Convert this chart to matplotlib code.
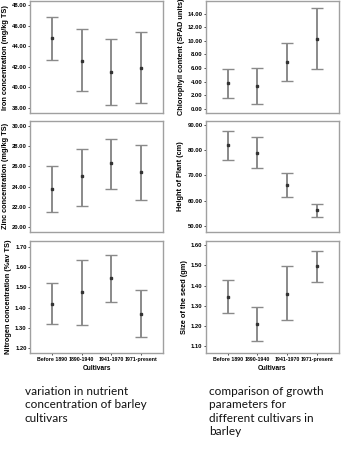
import matplotlib
matplotlib.use('Agg')
import matplotlib.pyplot as plt
from matplotlib import font_manager
from matplotlib.ticker import FormatStrFormatter

cultivars = ['Before 1890', '1890-1940', '1941-1970', '1971-present']

iron_mean = [44.8, 42.6, 41.5, 41.9]
iron_low = [42.7, 39.6, 38.3, 38.5]
iron_high = [46.9, 45.7, 44.7, 45.4]

zinc_mean = [23.8, 25.0, 26.3, 25.4]
zinc_low = [21.5, 22.1, 23.8, 22.7]
zinc_high = [26.0, 27.7, 28.7, 28.1]

nitro_mean = [1.42, 1.475, 1.545, 1.37]
nitro_low = [1.32, 1.315, 1.43, 1.255]
nitro_high = [1.52, 1.635, 1.66, 1.485]

chloro_mean = [3.8, 3.4, 6.9, 10.3]
chloro_low = [1.6, 0.7, 4.1, 5.9]
chloro_high = [5.9, 6.0, 9.7, 14.8]

height_mean = [82.0, 79.0, 66.3, 56.2]
height_low = [76.2, 73.0, 61.5, 53.5]
height_high = [87.5, 85.0, 70.8, 58.8]

seed_mean = [1.345, 1.21, 1.36, 1.495]
seed_low = [1.265, 1.125, 1.23, 1.415]
seed_high = [1.425, 1.295, 1.495, 1.57]

# narrow font for the small chart texts if it is there
names = {f.name for f in font_manager.fontManager.ttflist}
narrow = 'Liberation Sans Narrow' if 'Liberation Sans Narrow' in names else 'Liberation Sans'

panels = [
    # (left, bottom, mean, low, high, ylabel, yticks, ylim, xlabels)
    (0.087, 0.749, iron_mean, iron_low, iron_high, 'Iron concentration (mg/kg TS)',
     [38, 40, 42, 44, 46, 48], (37.5, 48.4), False),
    (0.087, 0.484, zinc_mean, zinc_low, zinc_high, 'Zinc concentration (mg/kg TS)',
     [20, 22, 24, 26, 28, 30], (19.5, 30.5), False),
    (0.087, 0.216, nitro_mean, nitro_low, nitro_high, 'Nitrogen concentration (%av TS)',
     [1.2, 1.3, 1.4, 1.5, 1.6, 1.7], (1.175, 1.73), True),
    (0.595, 0.749, chloro_mean, chloro_low, chloro_high, 'Chlorophyll content (SPAD units)',
     [0, 2, 4, 6, 8, 10, 12, 14], (-0.6, 15.8), False),
    (0.595, 0.484, height_mean, height_low, height_high, 'Height of Plant (cm)',
     [50, 60, 70, 80, 90], (47.6, 91.6), False),
    (0.595, 0.216, seed_mean, seed_low, seed_high, 'Size of the seed (gm)',
     [1.1, 1.2, 1.3, 1.4, 1.5, 1.6], (1.066, 1.62), True),
]

fig = plt.figure(figsize=(3.46, 4.5), dpi=100)

for left, bottom, mean, low, high, ylab, yt, yl, showx in panels:
    ax = fig.add_axes([left, bottom, 0.384, 0.248])
    x = list(range(len(cultivars)))
    err_lo = [m - l for m, l in zip(mean, low)]
    err_hi = [h - m for m, h in zip(mean, high)]
    ax.errorbar(x, mean, yerr=[err_lo, err_hi], fmt='none', ecolor='#8a8a8a',
                elinewidth=1.4, capsize=4, capthick=1.0)
    ax.plot(x, mean, 's', color='#333333', markersize=2)
    ax.set_xlim(-0.74, 3.74)
    ax.set_ylim(*yl)
    ax.set_yticks(yt)
    ax.yaxis.set_major_formatter(FormatStrFormatter('%.2f'))
    ax.set_ylabel(ylab, fontsize=5.3, fontweight='bold', family=narrow, labelpad=2)
    for s in ax.spines.values():
        s.set_color('#a0a0a0')
        s.set_linewidth(1.0)
    ax.tick_params(axis='y', labelsize=4.2, length=1.5, width=0.5, pad=1)
    for t in ax.get_yticklabels():
        t.set_fontweight('bold')
        t.set_family(narrow)
    ax.set_xticks(x)
    if showx:
        ax.set_xticklabels(cultivars, fontsize=3.8, fontweight='bold', family=narrow)
        ax.tick_params(axis='x', length=1.5, width=0.5, pad=1.5)
        ax.set_xlabel('Cultivars', fontsize=4.8, fontweight='bold', family=narrow, labelpad=2)
    else:
        ax.set_xticklabels([])
        ax.tick_params(axis='x', length=0)

fig.text(0.072, 0.142, 'variation in nutrient\nconcentration of barley\ncultivars',
         fontsize=8.5, family='Lato', va='top', ha='left', linespacing=1.25, color='#111111')
fig.text(0.604, 0.142, 'comparison of growth\nparameters for\ndifferent cultivars in\nbarley',
         fontsize=8.5, family='Lato', va='top', ha='left', linespacing=1.25, color='#111111')

fig.savefig('out.png', dpi=100)
